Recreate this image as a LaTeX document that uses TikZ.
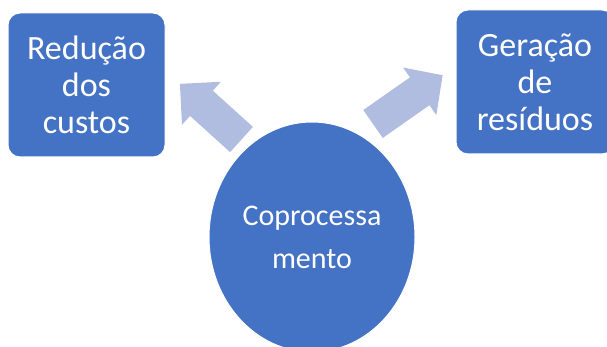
\documentclass[tikz,border=0pt]{standalone}
\usepackage{fontspec}
\setmainfont{Carlito}
\usepackage{xcolor}
\usepackage{tikz}
\usetikzlibrary{calc, positioning, shapes.geometric}
\definecolor{boxblue}{RGB}{68,114,196}
\definecolor{arrowblue}{RGB}{176,189,224}
\tikzset{
  goalbox/.style={rectangle,rounded corners=12pt,fill=boxblue,draw=white,line width=1pt,
    text=white,align=center,minimum width=157pt,minimum height=144pt,inner sep=0pt,
    font=\fontsize{34}{37}\selectfont},
  corebox/.style={ellipse,fill=boxblue,draw=white,line width=1pt,text=white,align=center,
    minimum width=206pt,minimum height=230pt,inner sep=0pt,
    font=\fontsize{30}{43}\selectfont},
  blockarrow/.style={fill=arrowblue}
}

\begin{document}
\begin{tikzpicture}[x=1pt,y=-1pt]
\useasboundingbox (0,0) rectangle (607,347);
\clip (0,0) rectangle (607,347);
\node[goalbox] (costs) at (86.5,85) {Redução\\dos\\custos};
\node[goalbox,minimum width=158pt] (waste) at (535,82) {Geração\\de\\resíduos};
\node[corebox] (core) at (312,237) {Coprocessa\\mento};
% block arrows from the core to the two boxes
\begin{scope}[shift={(241.5,139.5)},rotate=137.9]
\fill[blockarrow] (0,-17) -- (54,-17) -- (54,-29) -- (83,0) -- (54,29) -- (54,17) -- (0,17) -- cycle;
\end{scope}
\begin{scope}[shift={(373,124)},rotate=35]
\fill[blockarrow] (0,-17) -- (57,-17) -- (57,-29) -- (85,0) -- (57,29) -- (57,17) -- (0,17) -- cycle;
\end{scope}
\end{tikzpicture}
\end{document}
